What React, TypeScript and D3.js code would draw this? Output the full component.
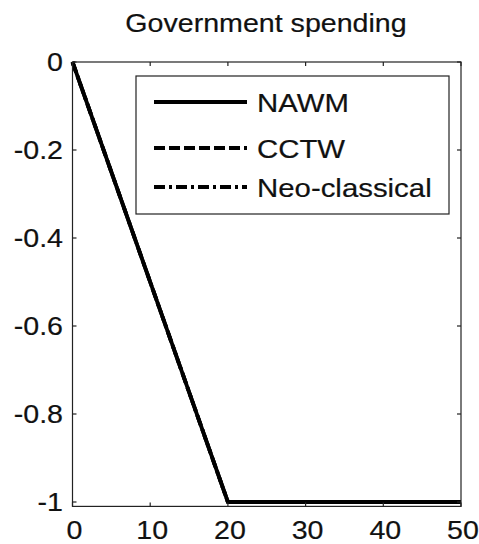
import React from "react";
import * as d3 from "d3";

// Response of government spending over 50 quarters
const quarters = [0, 20, 50];
const nawm = [0, -1, -1];
const cctw = [0, -1, -1];
const neoClassical = [0, -1, -1];

const seriesNames = ["NAWM", "CCTW", "Neo-classical"];
const xTicks = [0, 10, 20, 30, 40, 50];
const yTicks = [0, -0.2, -0.4, -0.6, -0.8, -1];
const titleText = "Government spending";

const W = 479;
const H = 544;
const left = 72.5;
const right = 461;
const top = 62;
const yMin = -1.01;

const FONT = "'Liberation Sans', Arial, Helvetica, sans-serif";
const SX = 1.1; // horizontal text stretch

const dashes = ["none", "11 4", "11 4 3 4"];

export default function App() {
  const x = d3.scaleLinear().domain([0, 50]).range([left, right]);
  const y = d3.scaleLinear().domain([0, -1]).range([top, top + 440]);
  const bottom = y(yMin);
  const axisTop = y(0);

  const line = d3
    .line<number>()
    .x((_, i) => x(quarters[i]))
    .y((d) => y(d));

  const series = [nawm, cctw, neoClassical];
  const tickLen = 4;

  const legend = { x0: 136, y0: 76, x1: 449, y1: 214 };
  const legendRows = [102, 148, 187];

  const T = (props: {
    x: number;
    y: number;
    anchor: string;
    size: number;
    sx?: number;
    children: React.ReactNode;
  }) => (
    <g transform={`translate(${props.x},${props.y}) scale(${props.sx ?? SX},1)`}>
      <text
        textAnchor={props.anchor as any}
        fontFamily={FONT}
        fontSize={props.size}
        fill="#111"
        stroke="#111"
        strokeWidth={0.2}
      >
        {props.children}
      </text>
    </g>
  );

  return (
    <svg
      width={W}
      height={H}
      style={{ position: "absolute", left: 0, top: 0, background: "#fff" }}
    >
      <rect x={0} y={0} width={W} height={H} fill="#fff" />
      <T x={266} y={32} anchor="middle" size={26}>
        {titleText}
      </T>

      {/* series */}
      {series.map((s, i) => (
        <path
          key={i}
          d={line(s) ?? ""}
          fill="none"
          stroke="#000"
          strokeWidth={3.8}
          strokeDasharray={dashes[i]}
          strokeLinejoin="round"
        />
      ))}

      {/* axes box */}
      <rect
        x={left}
        y={axisTop}
        width={right - left}
        height={bottom - axisTop}
        fill="none"
        stroke="#222"
        strokeWidth={1.2}
      />

      {/* ticks */}
      {xTicks.map((t) => (
        <g key={"x" + t}>
          <line x1={x(t)} x2={x(t)} y1={bottom} y2={bottom - tickLen} stroke="#222" strokeWidth={1.2} />
          <line x1={x(t)} x2={x(t)} y1={axisTop} y2={axisTop + tickLen} stroke="#222" strokeWidth={1.2} />
          <T x={x(t) + 2} y={539} anchor="middle" size={26}>
            {t}
          </T>
        </g>
      ))}
      {yTicks.map((t) => (
        <g key={"y" + t}>
          <line x1={left} x2={left + tickLen} y1={y(t)} y2={y(t)} stroke="#222" strokeWidth={1.2} />
          <line x1={right} x2={right - tickLen} y1={y(t)} y2={y(t)} stroke="#222" strokeWidth={1.2} />
          <T x={63} y={y(t) + 9} anchor="end" size={26}>
            {t === 0 ? "0" : t === -1 ? "-1" : String(t)}
          </T>
        </g>
      ))}

      {/* legend */}
      <rect
        x={legend.x0}
        y={legend.y0}
        width={legend.x1 - legend.x0}
        height={legend.y1 - legend.y0}
        fill="#fff"
        stroke="#222"
        strokeWidth={1.2}
      />
      {seriesNames.map((name, i) => (
        <g key={name}>
          <line
            x1={154}
            x2={247}
            y1={legendRows[i]}
            y2={legendRows[i]}
            stroke="#000"
            strokeWidth={4}
            strokeDasharray={dashes[i]}
          />
          <T x={257} y={legendRows[i] + 10} anchor="start" size={26} sx={1.13}>
            {name}
          </T>
        </g>
      ))}
    </svg>
  );
}
